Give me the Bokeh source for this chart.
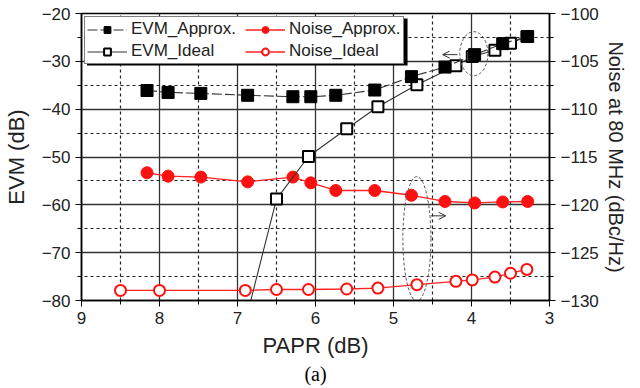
from bokeh.plotting import figure
from bokeh.models import (Range1d, LinearAxis, FixedTicker, Legend, LegendItem, Title,
                          BoxAnnotation, Arrow, OpenHead)
from bokeh.embed import file_html
from bokeh.resources import INLINE

# ---------------- data ----------------
papr_approx = [8.16, 7.89, 7.47, 6.87, 6.29, 6.06, 5.74, 5.24, 4.77, 4.34, 3.96, 3.60, 3.28]
evm_approx = [-36.1, -36.5, -36.7, -37.1, -37.4, -37.4, -37.1, -36.0, -33.2, -31.2, -28.6, -26.3, -24.8]
noise_approx = [-116.65, -117.0, -117.1, -117.6, -117.1, -117.7, -118.5, -118.5, -119.0,
                -119.65, -119.8, -119.7, -119.65]

papr_ideal = [8.50, 8.00, 6.90, 6.50, 6.09, 5.60, 5.20, 4.70, 4.20, 3.99, 3.70, 3.50, 3.29]
evm_ideal = [None, None, -84.5, -58.8, -49.9, -44.1, -39.5, -34.9, -30.9, -29.0, -27.7, -26.2, -24.8]
noise_ideal = [-128.95, -128.95, -128.95, -128.85, -128.85, -128.8, -128.7, -128.35, -128.0,
               -127.85, -127.55, -127.15, -126.75]

x_ticks = [9, 8, 7, 6, 5, 4, 3]
x_minor = [8.5, 7.5, 6.5, 5.5, 4.5, 3.5]
evm_ticks = [-80, -70, -60, -50, -40, -30, -20]
evm_minor = [-75, -65, -55, -45, -35, -25]
noise_ticks = [-130, -125, -120, -115, -110, -105, -100]
noise_minor = [-127.5, -122.5, -117.5, -112.5, -107.5, -102.5]

evm_ideal_x = [x for x, y in zip(papr_ideal, evm_ideal) if y is not None]
evm_ideal_y = [y for y in evm_ideal if y is not None]

FONT = "Liberation Sans"
TXT = "#222222"

p = figure(width=640, height=388, output_backend="svg", toolbar_location=None,
           x_range=Range1d(9, 3), y_range=Range1d(-80, -20),
           min_border_left=80, min_border_right=91, min_border_top=13, min_border_bottom=88,
           background_fill_color="white", border_fill_color="white")
p.extra_y_ranges = {"noise": Range1d(-130, -100)}

p.outline_line_color = "black"
p.outline_line_width = 1.5

# axes
p.xaxis.ticker = FixedTicker(ticks=x_ticks, minor_ticks=x_minor)
p.yaxis.ticker = FixedTicker(ticks=evm_ticks, minor_ticks=evm_minor)
p.xaxis.axis_label = "PAPR (dB)"
p.yaxis.axis_label = "EVM (dB)"

raxis = LinearAxis(y_range_name="noise", axis_label="Noise at 80 MHz (dBc/Hz)",
                   ticker=FixedTicker(ticks=noise_ticks, minor_ticks=noise_minor))
p.add_layout(raxis, "right")

for ax in [p.xaxis[0], p.yaxis[0], raxis]:
    ax.major_label_text_font = FONT
    ax.major_label_text_font_size = "17px"
    ax.major_label_text_color = TXT
    ax.axis_label_text_font = FONT
    ax.axis_label_text_font_style = "normal"
    ax.axis_label_text_color = TXT
    ax.axis_label_text_font_size = "22px"
    ax.axis_line_color = "black"
    ax.axis_line_width = 1.5
    ax.major_tick_line_color = "black"
    ax.minor_tick_line_color = "black"
    ax.major_tick_out = 6
    ax.major_tick_in = 0
    ax.minor_tick_out = 4
    ax.minor_tick_in = 0
    ax.axis_label_standoff = 6
    ax.major_label_standoff = 5
raxis.axis_label_text_font_size = "20px"
raxis.axis_label_standoff = 3
p.yaxis[0].axis_label_standoff = 10

# grids
for g in [p.xgrid[0], p.ygrid[0]]:
    g.grid_line_color = "#333333"
    g.grid_line_width = 1.3
    g.minor_grid_line_color = "#222222"
    g.minor_grid_line_width = 1.2
    g.minor_grid_line_dash = "3 3"

# series (ideal first so the approximate markers sit on top)
r_ni_l = p.line(papr_ideal, noise_ideal, line_color="#ff2020", line_width=1.3, y_range_name="noise")
r_ni_m = p.scatter(papr_ideal, noise_ideal, marker="circle", size=11,
                   fill_color="white", line_color="#ff1010", line_width=2, y_range_name="noise")
r_na_l = p.line(papr_approx, noise_approx, line_color="#ff2020", line_width=1.3, y_range_name="noise")
r_na_m = p.scatter(papr_approx, noise_approx, marker="circle", size=12,
                   fill_color="#ff1010", line_color="#ff1010", y_range_name="noise")
r_ei_l = p.line(evm_ideal_x, evm_ideal_y, line_color="#333333", line_width=1.1)
r_ei_m = p.scatter(evm_ideal_x, evm_ideal_y, marker="square", size=11,
                   fill_color="white", line_color="black", line_width=2)
r_ea_l = p.line(papr_approx, evm_approx, line_color="#333333", line_width=1.1, line_dash="10 3")
r_ea_m = p.scatter(papr_approx, evm_approx, marker="square", size=12,
                   fill_color="black", line_color="black")

# annotations: dashed ellipses and arrows
p.ellipse(x=[3.97], y=[-28.4], width=0.36, height=9.2, fill_color=None,
          line_color="#555555", line_dash="3 2", line_width=1)
p.ellipse(x=[4.70], y=[-67.1], width=0.36, height=26, fill_color=None,
          line_color="#555555", line_dash="3 2", line_width=1)
p.add_layout(Arrow(x_start=4.18, y_start=-28.6, x_end=4.37, y_end=-28.6, line_width=1,
                   line_color="#333333", end=OpenHead(size=7, line_width=1, line_color="#333333")))
p.add_layout(Arrow(x_start=4.52, y_start=-62.3, x_end=4.33, y_end=-62.3, line_width=1,
                   line_color="#333333", end=OpenHead(size=7, line_width=1, line_color="#333333")))

# legend shadow
p.add_layout(BoxAnnotation(left=8.93, right=4.82, top=-21.05, bottom=-30.85, fill_color="black",
                           fill_alpha=1, line_color=None, level="guide"))

legend = Legend(items=[
    LegendItem(label="EVM_Approx.", renderers=[r_ea_l, r_ea_m]),
    LegendItem(label="EVM_Ideal", renderers=[r_ei_l, r_ei_m]),
    LegendItem(label="Noise_Approx.", renderers=[r_na_l, r_na_m]),
    LegendItem(label="Noise_Ideal", renderers=[r_ni_l, r_ni_m]),
], location="top_left", orientation="vertical", nrows=2,
    border_line_color="black", border_line_width=1.5, background_fill_color="white",
    background_fill_alpha=1, label_text_font=FONT, label_text_font_size="17px",
    label_text_color=TXT, glyph_width=40, glyph_height=17, label_standoff=4, spacing=2,
    padding=2, margin=3, label_height=18, label_width=112)
p.add_layout(legend)

t = Title(text="(a)", align="center", text_font="Liberation Serif", text_font_size="20px",
          text_font_style="normal", text_color="black", standoff=0, offset=6)
p.add_layout(t, "below")

open("out.html", "w").write(file_html(p, INLINE))
